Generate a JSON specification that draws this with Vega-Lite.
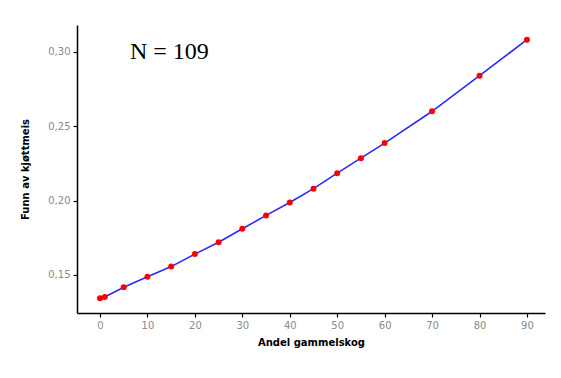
{
  "$schema": "https://vega.github.io/schema/vega-lite/v6.json",
  "width": 468,
  "height": 288,
  "autosize": "none",
  "padding": {"left": 77, "top": 25, "right": 16, "bottom": 65},
  "background": "white",
  "config": {
    "view": {"stroke": null},
    "axis": {"grid": false, "domainColor": "black", "tickColor": "black", "domainWidth": 1.5, "tickWidth": 1.2, "tickSize": 4, "labelColor": "#8a8a8a", "labelFont": "DejaVu Sans", "labelFontSize": 10, "titleFont": "DejaVu Sans", "titleFontSize": 10, "titleFontWeight": "bold", "titleColor": "black"}
  },
  "datasets": {
    "pts": [
      {"x": 0, "y": 0.1343},
      {"x": 1, "y": 0.1352},
      {"x": 5, "y": 0.1417},
      {"x": 10, "y": 0.1487},
      {"x": 15, "y": 0.1556},
      {"x": 20, "y": 0.1640},
      {"x": 25, "y": 0.1720},
      {"x": 30, "y": 0.1810},
      {"x": 35, "y": 0.1900},
      {"x": 40, "y": 0.1987},
      {"x": 45, "y": 0.2080},
      {"x": 50, "y": 0.2184},
      {"x": 55, "y": 0.2285},
      {"x": 60, "y": 0.2386},
      {"x": 70, "y": 0.2600},
      {"x": 80, "y": 0.2839},
      {"x": 90, "y": 0.3081}
    ],
    "note": [{"x": 6.3, "y": 0.30, "label": "N = 109"}]
  },
  "layer": [
    {
      "data": {"name": "pts"},
      "mark": {"type": "line", "color": "#2a2aff", "strokeWidth": 1.6},
      "encoding": {
        "x": {"field": "x", "type": "quantitative", "scale": {"domain": [-4.85, 93.8], "nice": false, "zero": false},
              "axis": {"values": [0,10,20,30,40,50,60,70,80,90], "title": "Andel gammelskog", "titlePadding": 7, "labelPadding": 3}},
        "y": {"field": "y", "type": "quantitative", "scale": {"domain": [0.1244, 0.318], "nice": false, "zero": false},
              "axis": {"values": [0.15, 0.20, 0.25, 0.30], "labelExpr": "replace(format(datum.value, '.2f'), '.', ',')", "title": "Funn av kjøttmeis", "titlePadding": 17, "labelPadding": 3}}
      }
    },
    {
      "data": {"name": "pts"},
      "mark": {"type": "point", "filled": true, "color": "#ff0000", "size": 36, "opacity": 1},
      "encoding": {
        "x": {"field": "x", "type": "quantitative"},
        "y": {"field": "y", "type": "quantitative"}
      }
    },
    {
      "data": {"name": "note"},
      "mark": {"type": "text", "font": "Liberation Serif", "fontSize": 24, "align": "left", "baseline": "middle", "color": "black"},
      "encoding": {
        "x": {"field": "x", "type": "quantitative"},
        "y": {"field": "y", "type": "quantitative"},
        "text": {"field": "label"}
      }
    }
  ]
}
